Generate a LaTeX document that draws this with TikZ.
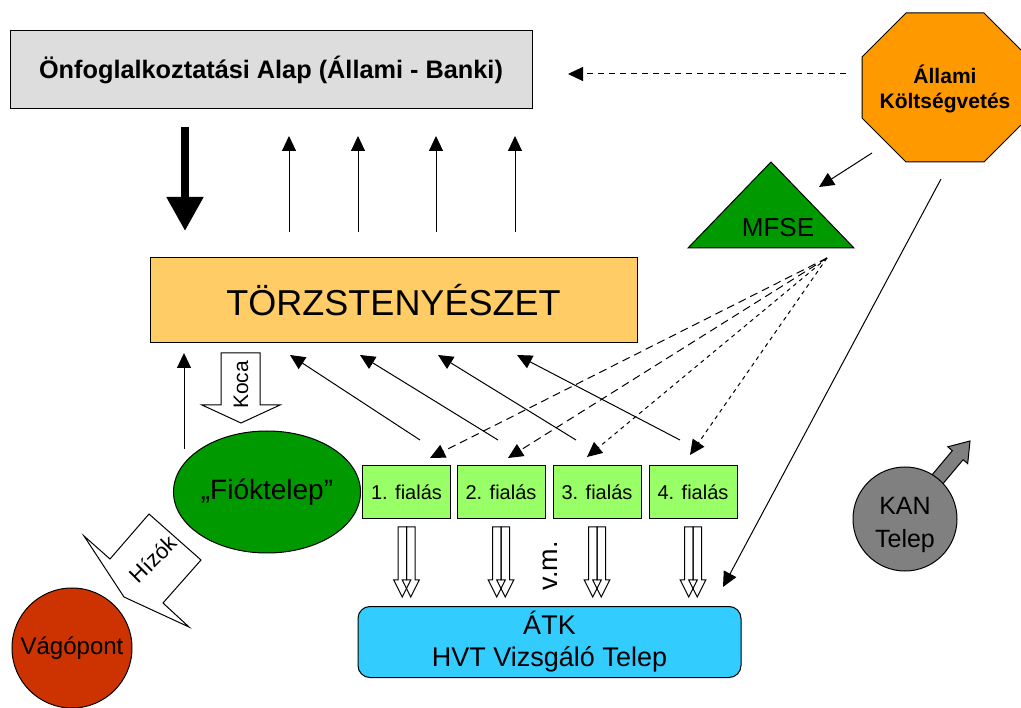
\documentclass[tikz,border=0pt]{standalone}
\usepackage{fontspec}
\setmainfont{Liberation Sans}
\usetikzlibrary{arrows.meta,shapes.geometric}
\definecolor{alapgray}{HTML}{DDDDDD}
\definecolor{torzsorange}{HTML}{FFCC66}
\definecolor{octorange}{HTML}{FF9900}
\definecolor{darkgreen}{HTML}{009900}
\definecolor{lightgreen}{HTML}{99FF66}
\definecolor{atkblue}{HTML}{33CCFF}
\definecolor{vagored}{HTML}{CC3300}
\definecolor{kangray}{HTML}{808080}
\begin{document}
\begin{tikzpicture}[x=1pt,y=-1pt,line width=1pt,
  >={Triangle[width=14pt,length=15pt]},
  box/.style={draw, inner sep=0pt, align=center},
  lbl/.style={inner sep=0pt, align=center},
  fialbox/.style={box, fill=lightgreen, minimum width=88pt, minimum height=53pt, font=\fontsize{20}{24}\selectfont},
  longdash/.style={dash pattern=on 8pt off 5pt},
  shortdash/.style={dash pattern=on 4pt off 4pt}]
\useasboundingbox (0,0) rectangle (1021,708);

% main boxes
\node[box, fill=alapgray, minimum width=522pt, minimum height=78pt, font=\bfseries\fontsize{25.3}{29}\selectfont] (alap) at (271,70) {Önfoglalkoztatási Alap (Állami - Banki)};
\node[box, fill=torzsorange, minimum width=487pt, minimum height=85pt, font=\fontsize{36}{40}\selectfont] (torzs) at (393.5,300.5) {TÖRZSTENYÉSZET};

% octagon
\draw[fill=octorange] (906,13) -- (984,13) -- (1028,57) -- (1028,118) -- (984,162) -- (906,162) -- (862,118) -- (862,57) -- cycle;
\node[lbl, font=\bfseries\fontsize{21}{25}\selectfont] (allami) at (945,89) {Állami\\Költségvetés};

% MFSE triangle
\draw[fill=darkgreen] (771,162) -- (854,248) -- (688,248) -- cycle;
\node[lbl, anchor=base, font=\fontsize{26}{30}\selectfont] (mfse) at (778,237) {MFSE};

% fialas boxes
\node[fialbox] (f1) at (406.5,492.5) {1. fialás};
\node[fialbox] (f2) at (501,492.5) {2. fialás};
\node[fialbox] (f3) at (597,492.5) {3. fialás};
\node[fialbox] (f4) at (693,492.5) {4. fialás};

% ATK
\node[box, fill=atkblue, rounded corners=12pt, minimum width=383pt, minimum height=71pt, font=\fontsize{27}{32}\selectfont] (atk) at (549.5,642) {ÁTK\\HVT Vizsgáló Telep};

% Fioktelep
\node[box, ellipse, fill=darkgreen, minimum width=182pt, minimum height=122pt, font=\fontsize{28}{32}\selectfont] (fiok) at (267,492) {„Fióktelep”};

% Vagopont
\node[box, circle, fill=vagored, minimum size=120pt, font=\fontsize{24}{28}\selectfont] (vago) at (72,648) {Vágópont};

% KAN Telep
\draw[fill=kangray] (925.3,482.9) -- (952.3,450.7) -- (947.8,446.8) -- (970,441) -- (967.7,463.6) -- (963.1,459.7) -- (936.1,491.9) -- cycle;
\node[draw, circle, inner sep=0pt, fill=kangray, minimum size=104pt] (kan) at (905,519) {};
\node[lbl, font=\fontsize{25}{33}\selectfont] (kantext) at (905,525) {KAN\\Telep};

% coordinates for connectors
\coordinate (thickA) at (185,127);
\coordinate (thickB) at (185,231);
\foreach \x [count=\i] in {289,358,436,515} {
  \coordinate (upA\i) at (\x,232);
  \coordinate (upB\i) at (\x,136);
}
\coordinate (octW) at (846,74);
\coordinate (alapE) at (568,74);
\coordinate (octSW) at (872,153);
\coordinate (mfseTop) at (819,187);
\coordinate (octS) at (941,179);
\coordinate (atkNE) at (723,587);
\coordinate (mfseSrc) at (827,258);
\coordinate (d1) at (430,458);
\coordinate (d2) at (508,458);
\coordinate (d3) at (587,457);
\coordinate (d4) at (690,455);
\coordinate (s1) at (420,440);
\coordinate (s2) at (498,440);
\coordinate (s3) at (576,440);
\coordinate (s4) at (680,440);
\coordinate (t1) at (290,355);
\coordinate (t2) at (360,355);
\coordinate (t3) at (438,355);
\coordinate (t4) at (517,355);
\coordinate (fiokUp) at (184,449);
\coordinate (torzsUp) at (184,353);

% thick down arrow
\draw[line width=8pt, -{Triangle[width=35pt,length=34pt]}] (thickA) -- (thickB);
% thin up arrows
\foreach \i in {1,...,4} { \draw[->] (upA\i) -- (upB\i); }

% dashed from budget to alap
\draw[->, dash pattern=on 6pt off 5pt] (octW) -- (alapE);
% budget to MFSE
\draw[->] (octSW) -- (mfseTop);
% budget to ATK
\draw[->] (octS) -- (atkNE);

% MFSE dashed to fialas
\draw[->, longdash] (mfseSrc) -- (d1);
\draw[->, longdash] (mfseSrc) -- (d2);
\draw[->, shortdash] (mfseSrc) -- (d3);
\draw[->, shortdash] (mfseSrc) -- (d4);

% fialas to torzs
\foreach \i in {1,...,4} { \draw[->] (s\i) -- (t\i); }

% fiok up to torzs
\draw[->] (fiokUp) -- (torzsUp);

% Koca block arrow
\draw[fill=white] (221,353) -- (260,353) -- (260,405) -- (280,405) -- (241,423) -- (202,405) -- (221,405) -- cycle;
\node[lbl, rotate=90, font=\fontsize{21}{24}\selectfont] (koca) at (241,385) {Koca};

% Hizok block arrow
\draw[fill=white] (149,514) -- (201,560) -- (163,603) -- (189,627) -- (124,597) -- (84,536) -- (110,559) -- cycle;
\node[lbl, rotate=45, font=\fontsize{22}{26}\selectfont] (hizok) at (153,559) {Hízók};

% double hollow arrows fialas -> ATK
\foreach \cx in {406.5,501,597,693} {
  \foreach \o in {-4.25,4.25} {
    \draw ({\cx+\o-4.25},527) -- ({\cx+\o+4.25},527) -- ({\cx+\o+4.25},580) -- ({\cx+\o+8.5},580) -- ({\cx+\o},597) -- ({\cx+\o-8.5},580) -- ({\cx+\o-4.25},580) -- cycle;
  }
}
\node[lbl, rotate=90, font=\fontsize{27}{31}\selectfont] (vm) at (550,566) {v.m.};

\end{tikzpicture}
\end{document}
